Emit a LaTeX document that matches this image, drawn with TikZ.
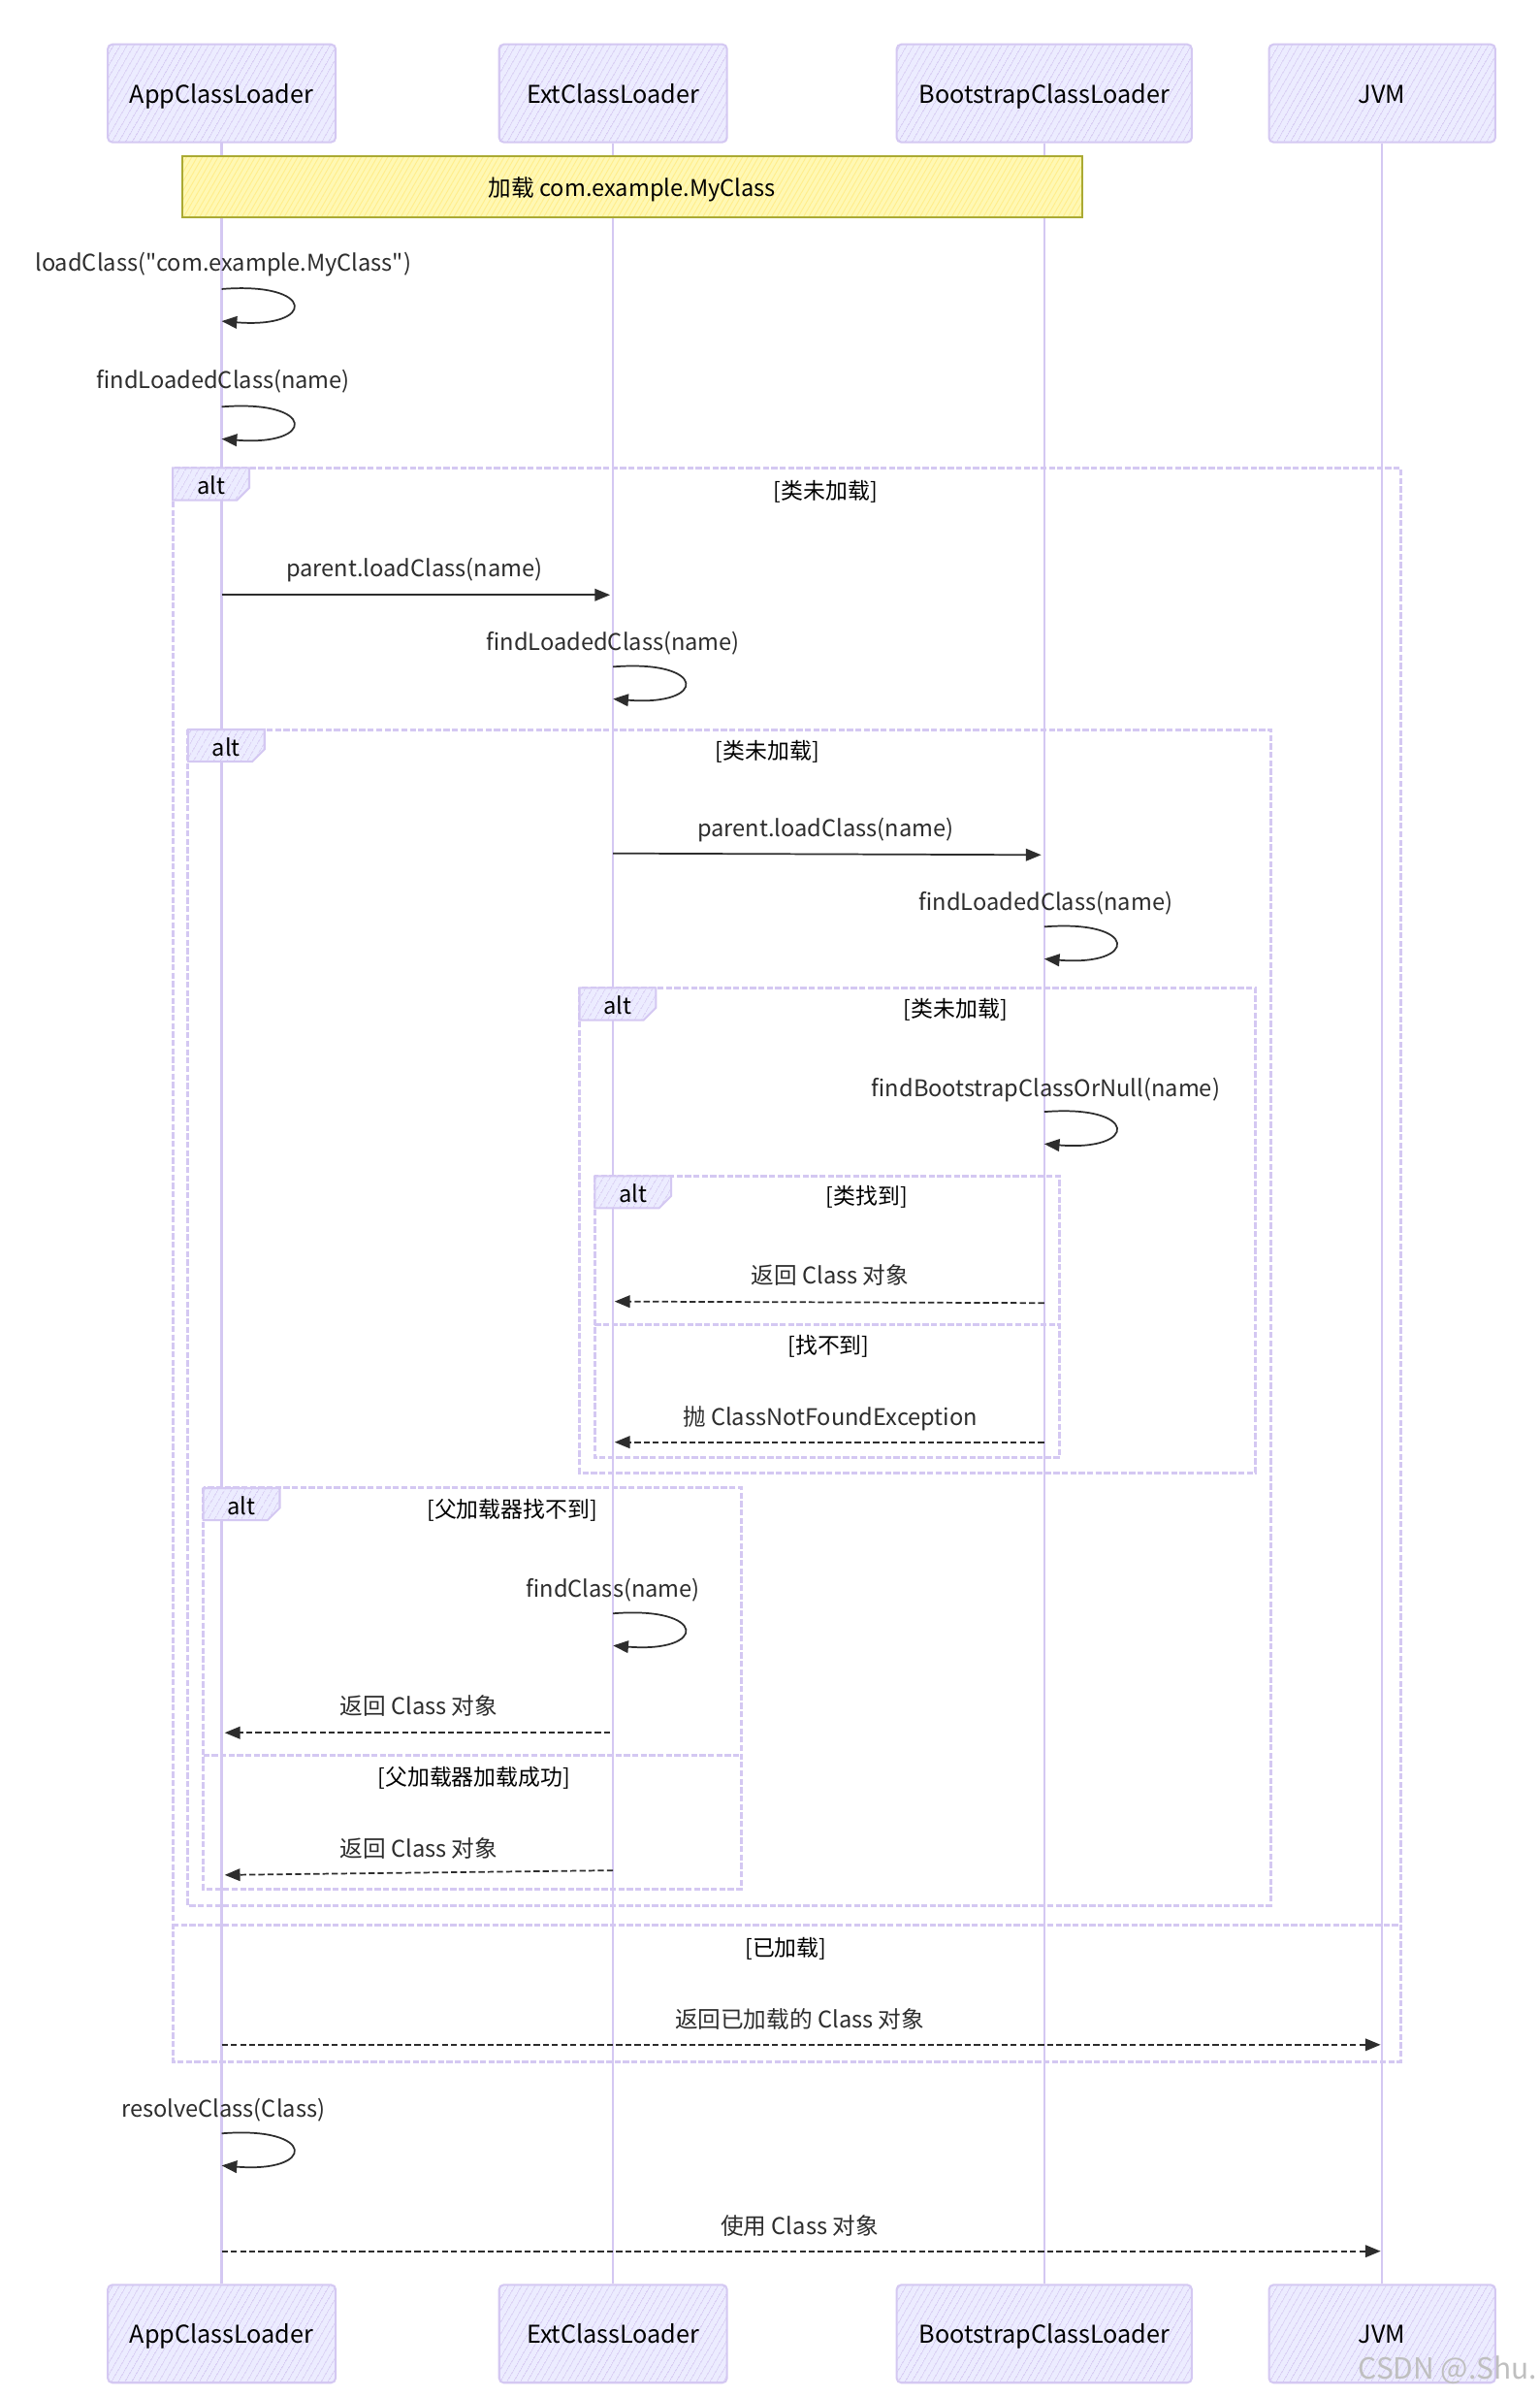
\documentclass[tikz,border=0pt]{standalone}
\usepackage{fontspec}
\setmainfont{Noto Sans CJK SC}
\usetikzlibrary{arrows.meta,patterns.meta}
\definecolor{lav}{RGB}{212,200,242}
\definecolor{actfill}{RGB}{236,236,255}
\definecolor{notefill}{RGB}{255,248,180}
\definecolor{noteline}{RGB}{170,170,51}
\definecolor{ink}{RGB}{45,45,45}
\tikzset{
  actor/.style={draw=lav, line width=1.3pt, rounded corners=3pt,
    minimum height=64pt, preaction={fill=actfill},
    pattern={Lines[angle=60,distance=4pt,line width=0.6pt]}, pattern color=lav,
    font=\fontsize{16}{19}\selectfont, text=black, inner sep=0pt,
    text height=14pt, text depth=1.5pt},
  life/.style={draw=lav, line width=1.6pt},
  frm/.style={draw=lav, line width=1.9pt, dash pattern=on 4pt off 1.5pt},
  tab/.style={draw=lav, line width=1.3pt, preaction={fill=actfill},
    pattern={Lines[angle=60,distance=4pt,line width=0.6pt]}, pattern color=lav},
  msg/.style={draw=ink, line width=1.1pt, -{Triangle[length=10pt,width=8pt]}},
  ret/.style={msg, dash pattern=on 4pt off 2pt},
  lbl/.style={font=\fontsize{15}{18}\selectfont, text=ink, inner sep=0pt,
    text height=12.5pt, text depth=0pt},
  cond/.style={font=\fontsize{14.5}{18}\selectfont, text=black, inner sep=0pt,
    text height=12.5pt, text depth=0pt},
  notebox/.style={draw=noteline, line width=1.3pt, preaction={fill=notefill},
    pattern={Lines[angle=60,distance=3pt,line width=0.6pt]}, pattern color=yellow!70!orange!45,
    minimum width=589pt, minimum height=40pt, inner sep=0pt,
    font=\fontsize{15}{18}\selectfont, text height=12.5pt, text depth=0pt}
}
\newcommand\mkframe[5]{%
  \draw[frm] (#1,#2) rectangle (#3,#4);
  \draw[tab] (#1,#2) -- ++(50,0) -- ++(0,13) -- ++(-8,8) -- (#1,#2+21) -- cycle;
  \node[lbl, text=black] (#5) at (#1+25,#2+11) {alt};
}
\begin{document}
\begin{tikzpicture}[x=1pt,y=-1pt]
\useasboundingbox[fill=white] (0,0) rectangle (1007,1568);
% actors
\node[actor, minimum width=149pt] (appT) at (145,61) {AppClassLoader};
\node[actor, minimum width=149pt] (extT) at (401,61) {ExtClassLoader};
\node[actor, minimum width=193pt] (bootT) at (683,61) {BootstrapClassLoader};
\node[actor, minimum width=148pt] (jvmT) at (904,61) {JVM};
\node[actor, minimum width=149pt] (appB) at (145,1526) {AppClassLoader};
\node[actor, minimum width=149pt] (extB) at (401,1526) {ExtClassLoader};
\node[actor, minimum width=193pt] (bootB) at (683,1526) {BootstrapClassLoader};
\node[actor, minimum width=148pt] (jvmB) at (904,1526) {JVM};
% lifelines
\draw[life] (appT.south) -- (appB.north);
\draw[life] (extT.south) -- (extB.north);
\draw[life] (bootT.south) -- (bootB.north);
\draw[life] (jvmT.south) -- (jvmB.north);
% frames
\mkframe{113}{306}{916}{1348}{f1}
\draw[frm] (113,1259) -- (916,1259);
\mkframe{123}{477}{831}{1246}{f2}
\mkframe{379}{646}{821}{963}{f3}
\mkframe{389}{769}{693}{953}{f4}
\draw[frm] (389,866) -- (693,866);
\mkframe{133}{973}{485}{1235}{f5}
\draw[frm] (133,1148) -- (485,1148);
% conditions
\node[cond] (c1) at (540,320) {[类未加载]};
\node[cond] (c2) at (502,490) {[类未加载]};
\node[cond] (c3) at (625,659) {[类未加载]};
\node[cond] (c4) at (567,781) {[类找到]};
\node[cond] (c4b) at (542,879) {[找不到]};
\node[cond] (c5) at (335,986) {[父加载器找不到]};
\node[cond] (c5b) at (310,1161) {[父加载器加载成功]};
\node[cond] (c1b) at (514,1273) {[已加载]};
% note
\node[notebox] (note) at (413.5,122) {加载 com.example.MyClass};
% coordinates on lifelines
\coordinate (a1) at (145,189); \coordinate (a2) at (145,210);
\coordinate (a3) at (145,266); \coordinate (a4) at (145,287);
\coordinate (a5) at (145,389); \coordinate (e5) at (399,389);
\coordinate (e6) at (401,436); \coordinate (e7) at (401,457);
\coordinate (e8) at (401,558); \coordinate (b8) at (681,559);
\coordinate (b9) at (683,606); \coordinate (b10) at (683,627);
\coordinate (b11) at (683,727); \coordinate (b12) at (683,748);
\coordinate (b13) at (683,852); \coordinate (e13) at (402,851);
\coordinate (b14) at (683,943); \coordinate (e14) at (402,943);
\coordinate (e15) at (401,1055); \coordinate (e16) at (401,1076);
\coordinate (e17) at (399,1133); \coordinate (a17) at (147,1133);
\coordinate (e18) at (401,1223); \coordinate (a18) at (147,1226);
\coordinate (a19) at (145,1337); \coordinate (j19) at (903,1337);
\coordinate (a20) at (145,1395); \coordinate (a21) at (145,1416);
\coordinate (a22) at (145,1472); \coordinate (j22) at (903,1472);
% messages
\node[lbl] (t1) at (146,171) {loadClass(\textquotedbl com.example.MyClass\textquotedbl)};
\draw[msg] (a1) .. controls +(62,-5) and +(62,5) .. (a2);
\node[lbl] (t2) at (146,248) {findLoadedClass(name)};
\draw[msg] (a3) .. controls +(62,-5) and +(62,5) .. (a4);
\node[lbl] (t3) at (271,371) {parent.loadClass(name)};
\draw[msg] (a5) -- (e5);
\node[lbl] (t4) at (401,419) {findLoadedClass(name)};
\draw[msg] (e6) .. controls +(62,-5) and +(62,5) .. (e7);
\node[lbl] (t5) at (540,541) {parent.loadClass(name)};
\draw[msg] (e8) -- (b8);
\node[lbl] (t6) at (684,589) {findLoadedClass(name)};
\draw[msg] (b9) .. controls +(62,-5) and +(62,5) .. (b10);
\node[lbl] (t7) at (684,711) {findBootstrapClassOrNull(name)};
\draw[msg] (b11) .. controls +(62,-5) and +(62,5) .. (b12);
\node[lbl] (t8) at (543,833) {返回 Class 对象};
\draw[ret] (b13) -- (e13);
\node[lbl] (t9) at (543,926) {抛 ClassNotFoundException};
\draw[ret] (b14) -- (e14);
\node[lbl] (t10) at (401,1038) {findClass(name)};
\draw[msg] (e15) .. controls +(62,-5) and +(62,5) .. (e16);
\node[lbl] (t11) at (274,1115) {返回 Class 对象};
\draw[ret] (e17) -- (a17);
\node[lbl] (t12) at (274,1208) {返回 Class 对象};
\draw[ret] (e18) -- (a18);
\node[lbl] (t13) at (523,1320) {返回已加载的 Class 对象};
\draw[ret] (a19) -- (j19);
\node[lbl] (t14) at (146,1378) {resolveClass(Class)};
\draw[msg] (a20) .. controls +(62,-5) and +(62,5) .. (a21);
\node[lbl] (t15) at (523,1455) {使用 Class 对象};
\draw[ret] (a22) -- (j22);
% watermark
\node[font=\fontsize{19}{22}\selectfont, text=black!25, inner sep=0pt] (wm) at (947,1550) {CSDN @.Shu.};
\end{tikzpicture}
\end{document}
